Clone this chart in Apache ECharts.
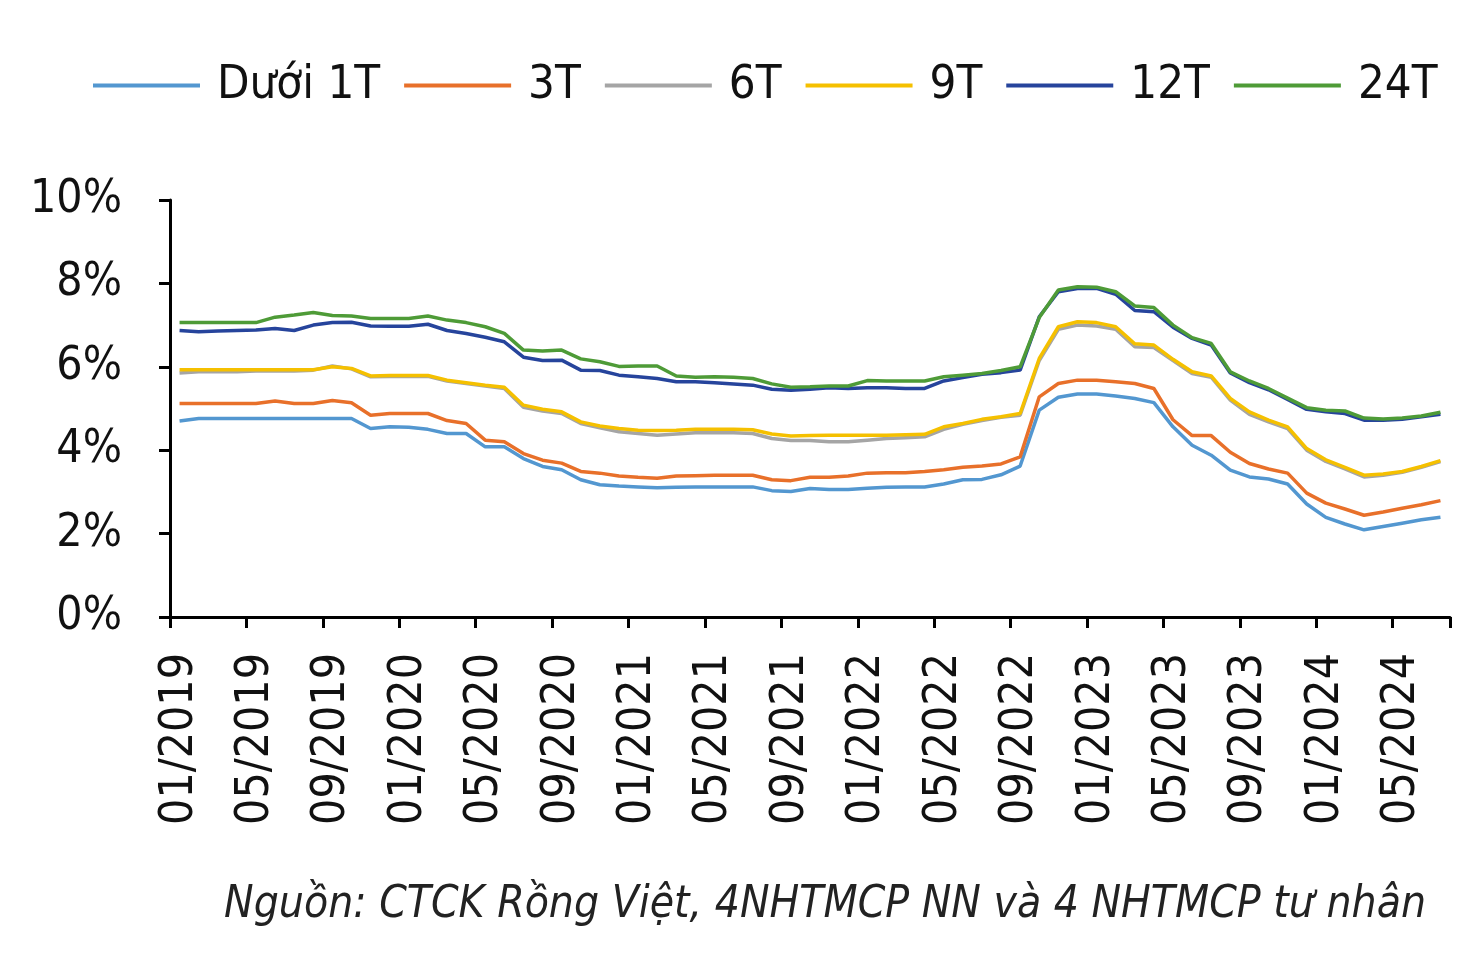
<!DOCTYPE html>
<html>
<head>
<meta charset="utf-8">
<script src="https://cdn.jsdelivr.net/npm/echarts@6/dist/echarts.min.js"></script>
<style>html,body{margin:0;padding:0;background:#fff;}#c{width:1476px;height:965px;}</style>
</head>
<body>
<div id="c"></div>
<script>
const months = [];
for (let y = 2019; y <= 2024; y++) {
  for (let m = 1; m <= 12; m++) {
    if (y === 2024 && m > 7) break;
    months.push((m < 10 ? '0' + m : '' + m) + '/' + y);
  }
}
const seriesNames = ['Dưới 1T', '3T', '6T', '9T', '12T', '24T'];
const under1T = [4.70,4.76,4.76,4.76,4.76,4.76,4.76,4.76,4.76,4.76,4.52,4.56,4.55,4.50,4.40,4.40,4.08,4.08,3.80,3.61,3.53,3.29,3.17,3.14,3.12,3.10,3.11,3.12,3.12,3.12,3.12,3.03,3.01,3.08,3.06,3.06,3.09,3.11,3.12,3.12,3.19,3.29,3.30,3.41,3.62,4.96,5.27,5.35,5.35,5.30,5.24,5.14,4.56,4.12,3.88,3.52,3.36,3.31,3.19,2.71,2.39,2.23,2.09,2.17,2.25,2.33,2.39];
const t3 = [5.12,5.12,5.12,5.12,5.12,5.18,5.12,5.12,5.19,5.14,4.84,4.88,4.88,4.88,4.71,4.64,4.24,4.20,3.92,3.76,3.69,3.49,3.45,3.38,3.35,3.33,3.38,3.39,3.40,3.40,3.40,3.29,3.27,3.35,3.35,3.38,3.45,3.46,3.46,3.49,3.53,3.59,3.62,3.67,3.84,5.28,5.60,5.68,5.68,5.64,5.60,5.48,4.73,4.35,4.35,3.95,3.68,3.55,3.45,2.97,2.73,2.59,2.44,2.52,2.61,2.69,2.79];
const t6 = [5.85,5.88,5.88,5.88,5.90,5.90,5.90,5.92,6.02,5.95,5.76,5.77,5.77,5.77,5.66,5.60,5.54,5.48,5.03,4.94,4.88,4.64,4.54,4.44,4.40,4.36,4.39,4.42,4.42,4.42,4.40,4.28,4.23,4.23,4.20,4.20,4.24,4.28,4.30,4.32,4.50,4.62,4.71,4.79,4.84,6.15,6.90,7.00,6.98,6.90,6.48,6.46,6.15,5.84,5.75,5.20,4.86,4.68,4.52,4.00,3.73,3.55,3.36,3.40,3.47,3.59,3.73];
const t9 = [5.93,5.93,5.93,5.93,5.93,5.93,5.93,5.93,6.00,5.96,5.78,5.79,5.79,5.79,5.68,5.62,5.56,5.51,5.08,4.98,4.92,4.68,4.58,4.52,4.48,4.47,4.48,4.50,4.50,4.50,4.49,4.39,4.34,4.35,4.36,4.36,4.36,4.36,4.37,4.38,4.56,4.64,4.74,4.80,4.88,6.20,6.96,7.08,7.06,6.96,6.55,6.52,6.18,5.88,5.78,5.24,4.92,4.72,4.56,4.04,3.77,3.59,3.40,3.43,3.49,3.61,3.75];
const t12 = [6.87,6.84,6.86,6.87,6.88,6.92,6.87,7.00,7.06,7.07,6.98,6.97,6.97,7.02,6.87,6.80,6.71,6.60,6.23,6.15,6.16,5.92,5.91,5.80,5.76,5.72,5.64,5.64,5.62,5.59,5.56,5.46,5.44,5.46,5.50,5.48,5.50,5.50,5.48,5.48,5.66,5.74,5.82,5.86,5.92,7.20,7.80,7.88,7.88,7.74,7.35,7.32,6.95,6.68,6.52,5.85,5.62,5.45,5.22,4.98,4.92,4.88,4.72,4.72,4.74,4.80,4.86];
const t24 = [7.06,7.06,7.06,7.06,7.06,7.19,7.24,7.30,7.23,7.22,7.16,7.16,7.16,7.22,7.12,7.06,6.96,6.80,6.40,6.38,6.40,6.19,6.12,6.01,6.02,6.02,5.78,5.75,5.76,5.75,5.72,5.59,5.51,5.52,5.54,5.54,5.67,5.66,5.66,5.66,5.76,5.80,5.84,5.91,6.00,7.18,7.84,7.92,7.91,7.80,7.46,7.42,7.00,6.70,6.56,5.88,5.66,5.48,5.25,5.02,4.96,4.94,4.77,4.75,4.77,4.82,4.91];
const seriesData = [under1T, t3, t6, t9, t12, t24];
const colors = ['#5397D0', '#E8702A', '#A5A5A5', '#F5C000', '#26449C', '#4E9B37'];
const sourceText = 'Nguồn: CTCK Rồng Việt, 4NHTMCP NN và 4 NHTMCP tư nhân';

const FONT = '"DejaVu Sans Condensed", "DejaVu Sans", sans-serif';
const chart = echarts.init(document.getElementById('c'), null, {renderer: 'canvas'});
chart.setOption({
  animation: false,
  backgroundColor: '#fff',
  color: colors,
  grid: {left: 170, right: 26, top: 200, bottom: 348, containLabel: false},
  legend: {
    left: 88, top: 57,
    itemWidth: 107, itemHeight: 4, itemGap: 24,
    icon: 'rect',
    data: seriesNames,
    textStyle: {fontFamily: FONT, fontSize: 47, color: '#111', padding: [0, 0, 0, 12]}
  },
  xAxis: {
    type: 'category',
    data: months,
    boundaryGap: true,
    axisLine: {lineStyle: {color: '#000', width: 3}},
    axisTick: {show: true, interval: 3, length: 11, lineStyle: {color: '#000', width: 3}},
    axisLabel: {interval: 3, rotate: 90, margin: 36, fontFamily: FONT, fontSize: 46, color: '#111'},
    splitLine: {show: false}
  },
  yAxis: {
    type: 'value',
    min: 0, max: 10, interval: 2,
    axisLine: {show: true, lineStyle: {color: '#000', width: 3}},
    axisTick: {show: true, length: 11, lineStyle: {color: '#000', width: 3}},
    axisLabel: {formatter: '{value}%', margin: 48, fontFamily: FONT, fontSize: 46, color: '#111'},
    splitLine: {show: false}
  },
  graphic: [{
    type: 'text', right: 50, top: 884,
    style: {text: sourceText, font: 'italic 44px ' + FONT, fill: '#222'}
  }],
  series: seriesNames.map((n, k) => ({
    name: n, type: 'line', data: seriesData[k],
    symbol: 'none', lineStyle: {width: 3.5, color: colors[k]},
    itemStyle: {color: colors[k]}
  }))
});
</script>
</body>
</html>
